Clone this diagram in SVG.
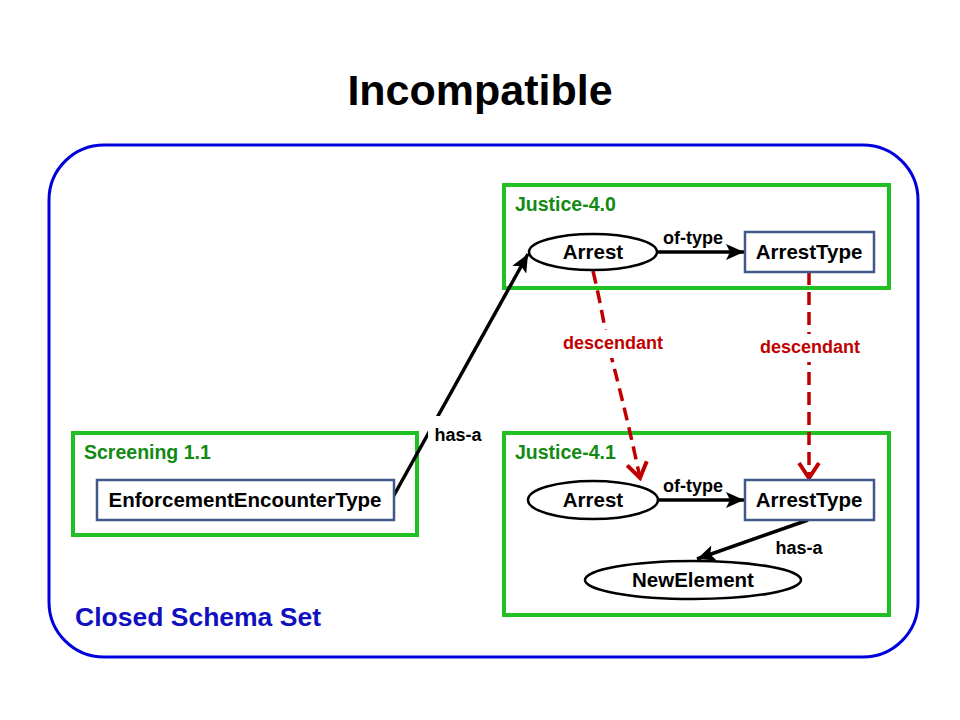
<svg xmlns="http://www.w3.org/2000/svg" width="960" height="720" viewBox="0 0 960 720">
<style>
text{font-family:"Liberation Sans",Arial,sans-serif;font-weight:bold}
.title{font-size:43px;fill:#000}
.set{font-size:26.5px;fill:#1010c0}
.grp{fill:none;stroke:#22c022;stroke-width:4}
.glabel{font-size:19.5px;fill:#138a13}
.node{fill:#fff;stroke:#3f5a88;stroke-width:2.5}
.ell{fill:#fff;stroke:#000;stroke-width:2.5}
.nt{font-size:20.5px;fill:#000;text-anchor:middle}
.edge{fill:none;stroke:#000;stroke-width:3.5}
.desc{fill:none;stroke:#c00000;stroke-width:3.5;stroke-dasharray:13,7}
.el{font-size:18px;fill:#000;text-anchor:middle}
.dl{font-size:18px;fill:#c00000;text-anchor:middle}
</style>
<defs>
<marker id="ahb" viewBox="0 0 20 16" refX="18" refY="8" markerWidth="20" markerHeight="16" orient="auto" markerUnits="userSpaceOnUse">
<path d="M0,0 L18,8 L0,16 L4,8 Z" fill="#000"/>
</marker>
<marker id="dh" viewBox="0 0 20 24" refX="17" refY="12" markerWidth="20" markerHeight="24" orient="auto" markerUnits="userSpaceOnUse">
<path d="M2,2 L17,12 L2,22" fill="none" stroke="#c00000" stroke-width="4"/>
</marker>
</defs>
<text class="title" x="480" y="105" text-anchor="middle">Incompatible</text>
<g id="closed-set">
<rect x="49" y="145" width="869" height="512" rx="55" ry="55" fill="none" stroke="#0000dd" stroke-width="3"/>
<text class="set" x="75" y="626">Closed Schema Set</text>
</g>
<g id="justice-4.0">
<rect class="grp" x="504" y="185" width="385" height="103"/>
<text class="glabel" x="515" y="211">Justice-4.0</text>
</g>
<g id="justice-4.1">
<rect class="grp" x="504" y="433" width="385" height="182"/>
<text class="glabel" x="515" y="459">Justice-4.1</text>
</g>
<g id="screening-1.1">
<rect class="grp" x="73" y="433" width="344" height="102"/>
<text class="glabel" x="84" y="459">Screening 1.1</text>
</g>
<g id="connectors">
<line class="edge" x1="393" y1="497" x2="528" y2="254" marker-end="url(#ahb)"/>
<rect x="428" y="416" width="58" height="38" fill="#fff"/>
<text class="el" x="458" y="441">has-a</text>
<line class="edge" x1="657" y1="252" x2="744" y2="252" marker-end="url(#ahb)"/>
<text class="el" x="693" y="244">of-type</text>
<line class="edge" x1="658" y1="500" x2="744" y2="500" marker-end="url(#ahb)"/>
<text class="el" x="693" y="492">of-type</text>
<line class="edge" x1="808" y1="520" x2="697" y2="559" marker-end="url(#ahb)"/>
<text class="el" x="799" y="554">has-a</text>
<path class="desc" d="M593,271 Q600,300 607,340 Q628,420 640,478" marker-end="url(#dh)"/>
<rect x="558" y="330" width="110" height="28" fill="#fff"/>
<text class="dl" x="613" y="349">descendant</text>
<line class="desc" x1="809" y1="272" x2="809" y2="478" marker-end="url(#dh)"/>
<rect x="755" y="334" width="110" height="28" fill="#fff"/>
<text class="dl" x="810" y="353">descendant</text>
</g>
<g id="arrest-40">
<ellipse class="ell" cx="593" cy="252" rx="64" ry="18"/>
<text class="nt" x="593" y="259">Arrest</text>
</g>
<g id="arresttype-40">
<rect class="node" x="745" y="232" width="129" height="40"/>
<text class="nt" x="809" y="259">ArrestType</text>
</g>
<g id="arrest-41">
<ellipse class="ell" cx="593" cy="500" rx="65" ry="19"/>
<text class="nt" x="593" y="507">Arrest</text>
</g>
<g id="arresttype-41">
<rect class="node" x="745" y="480" width="129" height="40"/>
<text class="nt" x="809" y="507">ArrestType</text>
</g>
<g id="newelement">
<ellipse class="ell" cx="693" cy="580" rx="108" ry="19"/>
<text class="nt" x="693" y="587">NewElement</text>
</g>
<g id="enforcementencountertype">
<rect class="node" x="97" y="480" width="297" height="40"/>
<text class="nt" x="245" y="507">EnforcementEncounterType</text>
</g>
</svg>
